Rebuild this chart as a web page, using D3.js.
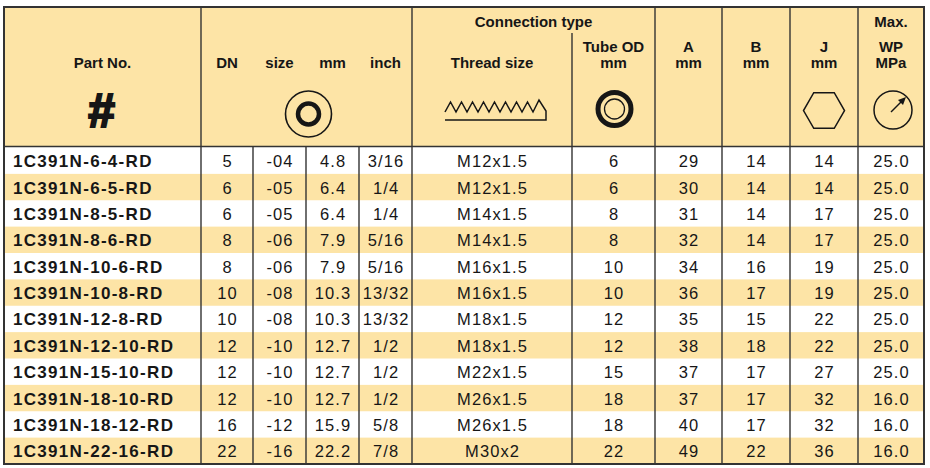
<!DOCTYPE html>
<html>
<head>
<meta charset="utf-8">
<script src="https://cdn.jsdelivr.net/npm/d3@7"></script>
<style>
  html, body { margin: 0; padding: 0; background: #fff; }
  svg { display: block; font-family: "Liberation Sans", Arial, Helvetica, sans-serif; }
</style>
</head>
<body>
<div id="chart"></div>
<script>
// table data
const partNos = ["1C391N-6-4-RD", "1C391N-6-5-RD", "1C391N-8-5-RD", "1C391N-8-6-RD",
  "1C391N-10-6-RD", "1C391N-10-8-RD", "1C391N-12-8-RD", "1C391N-12-10-RD",
  "1C391N-15-10-RD", "1C391N-18-10-RD", "1C391N-18-12-RD", "1C391N-22-16-RD"];
const dn = ["5", "6", "6", "8", "8", "10", "10", "12", "12", "12", "16", "22"];
const dashSize = ["-04", "-05", "-05", "-06", "-06", "-08", "-08", "-10", "-10", "-10", "-12", "-16"];
const boreMm = ["4.8", "6.4", "6.4", "7.9", "7.9", "10.3", "10.3", "12.7", "12.7", "12.7", "15.9", "22.2"];
const boreInch = ["3/16", "1/4", "1/4", "5/16", "5/16", "13/32", "13/32", "1/2", "1/2", "1/2", "5/8", "7/8"];
const threadSize = ["M12x1.5", "M12x1.5", "M14x1.5", "M14x1.5", "M16x1.5", "M16x1.5",
  "M18x1.5", "M18x1.5", "M22x1.5", "M26x1.5", "M26x1.5", "M30x2"];
const tubeOD = ["6", "6", "8", "8", "10", "10", "12", "12", "15", "18", "18", "22"];
const dimA = ["29", "30", "31", "32", "34", "36", "35", "38", "37", "37", "40", "49"];
const dimB = ["14", "14", "14", "14", "16", "17", "15", "18", "17", "17", "17", "22"];
const dimJ = ["14", "14", "17", "17", "19", "19", "22", "22", "27", "32", "32", "36"];
const maxWP = ["25.0", "25.0", "25.0", "25.0", "25.0", "25.0", "25.0", "25.0", "25.0", "16.0", "16.0", "16.0"];

const columnKeys = ["part", "dn", "size", "mm", "inch", "thread", "tube", "a", "b", "j", "wp"];
const columnValues = [partNos, dn, dashSize, boreMm, boreInch, threadSize, tubeOD, dimA, dimB, dimJ, maxWP];

const width = 930, height = 468;
const tLeft = 4, tRight = 924, tTop = 7, headBottom = 146.5, tBottom = 464;
const colWidths = [197, 52, 53, 53, 53, 160, 83, 67, 68, 68, 66];

const fillHead = "#fde4a6";
const fillBand = "#fde4a6";
const ink = "#161616";
const lineCol = "#333";

const svg = d3.select("#chart")
  .append("svg")
  .attr("width", width)
  .attr("height", height);

// column edges
const edges = [tLeft];
colWidths.forEach(w => edges.push(edges[edges.length - 1] + w));
const colX0 = i => edges[i];
const colMid = i => (edges[i] + edges[i + 1]) / 2;

const yScale = d3.scaleBand()
  .domain(d3.range(partNos.length))
  .range([headBottom + 1, tBottom]);

// header background
svg.append("rect")
  .attr("x", tLeft).attr("y", tTop)
  .attr("width", tRight - tLeft).attr("height", headBottom - tTop)
  .attr("fill", fillHead);

// body row shading
svg.append("g").selectAll("rect")
  .data(d3.range(partNos.length).filter(i => i % 2 === 1))
  .join("rect")
  .attr("x", tLeft)
  .attr("y", d => yScale(d))
  .attr("width", tRight - tLeft)
  .attr("height", yScale.bandwidth())
  .attr("fill", fillBand);

// body text
const body = svg.append("g");
columnKeys.forEach((key, c) => {
  const sp = c === 0 ? 1.3 : 1.1;
  body.append("g").selectAll("text")
    .data(columnValues[c])
    .join("text")
    .attr("x", c === 0 ? colX0(0) + 9 : colMid(c) + sp / 2)
    .attr("y", (d, i) => yScale(i) + yScale.bandwidth() / 2 + 6.5)
    .attr("text-anchor", c === 0 ? "start" : "middle")
    .attr("fill", ink)
    .style("font-size", c === 0 ? "17px" : "16.5px")
    .style("font-weight", c === 0 ? "bold" : "normal")
    .style("letter-spacing", sp + "px")
    .text(d => d);
});

// grid lines
const lines = svg.append("g").attr("stroke", lineCol).attr("stroke-width", 1.4).attr("fill", "none");
edges.slice(1, -1).forEach((x, i) => {
  const c = i + 1;
  const inHead = [1, 5, 7, 8, 9, 10].includes(c);
  const fromY = c === 6 ? 33 : (inHead ? tTop : headBottom);
  lines.append("line")
    .attr("x1", x).attr("x2", x)
    .attr("y1", fromY).attr("y2", tBottom);
});
lines.append("line")
  .attr("x1", tLeft).attr("x2", tRight)
  .attr("y1", headBottom).attr("y2", headBottom)
  .attr("stroke-width", 1.6);
lines.append("rect")
  .attr("x", tLeft).attr("y", tTop)
  .attr("width", tRight - tLeft).attr("height", tBottom - tTop)
  .attr("stroke-width", 2);

// header labels
const head = svg.append("g")
  .attr("fill", ink)
  .attr("text-anchor", "middle")
  .style("font-weight", "bold")
  .style("font-size", "15px");

const headLabels = [
  { col: 0, lines: ["Part No."], y: [68] },
  { col: 1, lines: ["DN"], y: [68] },
  { col: 2, lines: ["size"], y: [68] },
  { col: 3, lines: ["mm"], y: [68] },
  { col: 4, lines: ["inch"], y: [68] },
  { col: 5, lines: ["Thread size"], y: [68] },
  { col: 6, lines: ["Tube OD", "mm"], y: [52, 68] },
  { col: 7, lines: ["A", "mm"], y: [52, 68] },
  { col: 8, lines: ["B", "mm"], y: [52, 68] },
  { col: 9, lines: ["J", "mm"], y: [52, 68] },
  { col: 10, lines: ["Max.", "WP", "MPa"], y: [27, 52, 68] }
];
headLabels.forEach(h => {
  h.lines.forEach((t, k) => {
    head.append("text")
      .attr("x", colMid(h.col))
      .attr("y", h.y[k])
      .text(t);
  });
});
head.append("text")
  .attr("x", (edges[5] + edges[7]) / 2)
  .attr("y", 27)
  .text("Connection type");

// "#" icon
head.append("text")
  .attr("x", colMid(0) - 1)
  .attr("y", 127)
  .attr("stroke", ink)
  .attr("stroke-width", 2.2)
  .style("font-size", "48px")
  .text("#");

const icons = svg.append("g").attr("stroke", ink).attr("fill", "none");

// bore icon (circle with thick ring)
const boreCx = (edges[1] + edges[5]) / 2 + 2;
icons.append("circle").attr("cx", boreCx).attr("cy", 114).attr("r", 23).attr("stroke-width", 1.6);
icons.append("circle").attr("cx", boreCx).attr("cy", 114).attr("r", 10.5).attr("stroke-width", 4.5);

// thread icon
const tx0 = colMid(5) - 47;
const teeth = 8, step = 11;
let d = `M${tx0},112`;
for (let k = 0; k < teeth; k++) {
  d += ` L${tx0 + k * step + step / 2},102 L${tx0 + (k + 1) * step},112`;
}
const tEnd = tx0 + teeth * step;
d += ` L${tEnd + 6},100 L${tEnd + 13},111 L${tEnd + 13},120 L${tx0},120`;
icons.append("path").attr("d", d).attr("stroke-width", 1.5).attr("stroke-linejoin", "miter");

// tube OD icon
const tubeCx = colMid(6) + 1;
icons.append("circle").attr("cx", tubeCx).attr("cy", 109).attr("r", 16.5).attr("stroke-width", 5);
icons.append("circle").attr("cx", tubeCx).attr("cy", 109).attr("r", 10).attr("stroke-width", 1.3);

// hexagon icon
const hexR = 20.5, hexCx = colMid(9), hexCy = 110.5;
const hexPts = d3.range(6).map(k => {
  const a = Math.PI / 3 * k;
  return [hexCx + hexR * Math.cos(a), hexCy + hexR * Math.sin(a)];
});
icons.append("polygon")
  .attr("points", hexPts.map(p => p.join(",")).join(" "))
  .attr("stroke-width", 1.5);

// pressure gauge icon
const gx = colMid(10) + 2, gy = 110, gr = 19;
icons.append("circle").attr("cx", gx).attr("cy", gy).attr("r", gr).attr("stroke-width", 1.5);
icons.append("line")
  .attr("x1", gx - 2).attr("y1", gy + 2)
  .attr("x2", gx + 11).attr("y2", gy - 11)
  .attr("stroke-width", 1.5);
icons.append("path")
  .attr("d", `M${gx + 13},${gy - 13} L${gx + 5},${gy - 10} L${gx + 10},${gy - 5} Z`)
  .attr("fill", ink).attr("stroke", "none");
</script>
</body>
</html>
